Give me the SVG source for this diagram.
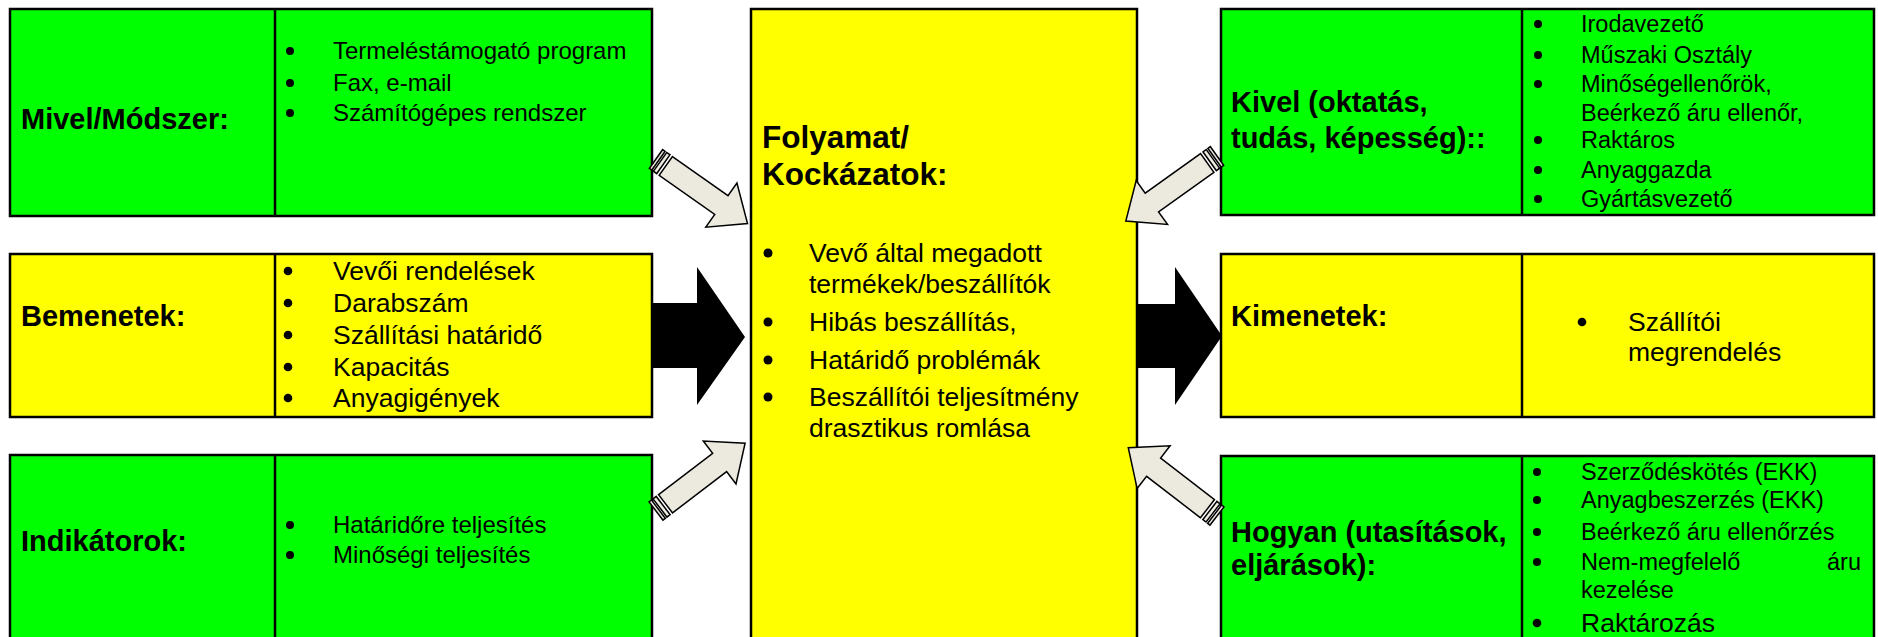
<svg xmlns="http://www.w3.org/2000/svg" width="1878" height="637" viewBox="0 0 1878 637">
<style>
  .box{stroke:#000;stroke-width:2.5}
  .g{fill:#00ff00}
  .y{fill:#ffff00}
  .div{stroke:#000;stroke-width:2.5}
  .lbl{font-family:"Liberation Sans",Arial,sans-serif;font-weight:bold;font-size:29px;fill:#000}
  .ttl{font-family:"Liberation Sans",Arial,sans-serif;font-weight:bold;font-size:31.5px;fill:#000}
  .b24{font-family:"Liberation Sans",Arial,sans-serif;font-size:24px;fill:#000}
  .b26{font-family:"Liberation Sans",Arial,sans-serif;font-size:26.5px;fill:#000}
  .b23{font-family:"Liberation Sans",Arial,sans-serif;font-size:23.5px;fill:#000}
  .dot{fill:#000}
  .garr{fill:#ece9df;stroke:#000;stroke-width:1.5;stroke-linejoin:miter}
  .barr{fill:#000}
</style>
<defs>
  <g id="garrow">
    <rect class="garr" x="0" y="-11.5" width="3" height="23"/>
    <rect class="garr" x="5" y="-11.5" width="4" height="23"/>
    <polygon class="garr" points="12,-11.5 80,-11.5 80,-27 112,0 80,27 80,11.5 12,11.5"/>
  </g>
</defs>

<g id="mivel">
  <rect class="box g" x="10" y="9" width="642" height="207"/>
  <line class="div" x1="275" y1="9" x2="275" y2="216"/>
  <text class="lbl" x="21" y="129">Mivel/Módszer:</text>
  <circle class="dot" cx="290" cy="51" r="4"/><text class="b24" x="333" y="59">Termeléstámogató program</text>
  <circle class="dot" cx="290" cy="83" r="4"/><text class="b24" x="333" y="91">Fax, e-mail</text>
  <circle class="dot" cx="290" cy="113" r="4"/><text class="b24" x="333" y="121">Számítógépes rendszer</text>
</g>

<g id="bemenetek">
  <rect class="box y" x="10" y="254" width="642" height="163"/>
  <line class="div" x1="275" y1="254" x2="275" y2="417"/>
  <text class="lbl" x="21" y="326">Bemenetek:</text>
  <circle class="dot" cx="288" cy="271" r="4.3"/><text class="b26" x="333" y="280">Vevői rendelések</text>
  <circle class="dot" cx="288" cy="303" r="4.3"/><text class="b26" x="333" y="312">Darabszám</text>
  <circle class="dot" cx="288" cy="335" r="4.3"/><text class="b26" x="333" y="344">Szállítási határidő</text>
  <circle class="dot" cx="288" cy="367" r="4.3"/><text class="b26" x="333" y="376">Kapacitás</text>
  <circle class="dot" cx="288" cy="398" r="4.3"/><text class="b26" x="333" y="407">Anyagigények</text>
</g>

<g id="indikatorok">
  <rect class="box g" x="10" y="455" width="642" height="190"/>
  <line class="div" x1="275" y1="455" x2="275" y2="645"/>
  <text class="lbl" x="21" y="551">Indikátorok:</text>
  <circle class="dot" cx="290" cy="525" r="4"/><text class="b24" x="333" y="533">Határidőre teljesítés</text>
  <circle class="dot" cx="290" cy="555" r="4"/><text class="b24" x="333" y="563">Minőségi teljesítés</text>
</g>

<g id="folyamat">
  <rect class="box y" x="751" y="9" width="386" height="640"/>
  <text class="ttl" x="762" y="148">Folyamat/</text>
  <text class="ttl" x="762" y="185">Kockázatok:</text>
  <circle class="dot" cx="768" cy="253" r="4.5"/><text class="b26" x="809" y="262">Vevő által megadott</text>
  <text class="b26" x="809" y="293">termékek/beszállítók</text>
  <circle class="dot" cx="768" cy="322" r="4.5"/><text class="b26" x="809" y="331">Hibás beszállítás,</text>
  <circle class="dot" cx="768" cy="360" r="4.5"/><text class="b26" x="809" y="369">Határidő problémák</text>
  <circle class="dot" cx="768" cy="397" r="4.5"/><text class="b26" x="809" y="406">Beszállítói teljesítmény</text>
  <text class="b26" x="809" y="437">drasztikus romlása</text>
</g>

<g id="kivel">
  <rect class="box g" x="1221" y="9" width="653" height="206"/>
  <line class="div" x1="1522" y1="9" x2="1522" y2="215"/>
  <text class="lbl" x="1231" y="112">Kivel (oktatás,</text>
  <text class="lbl" x="1231" y="148">tudás, képesség)::</text>
  <circle class="dot" cx="1538" cy="24" r="4"/><text class="b23" x="1581" y="32">Irodavezető</text>
  <circle class="dot" cx="1538" cy="55" r="4"/><text class="b23" x="1581" y="63">Műszaki Osztály</text>
  <circle class="dot" cx="1538" cy="84" r="4"/><text class="b23" x="1581" y="92">Minőségellenőrök,</text>
  <text class="b23" x="1581" y="121">Beérkező áru ellenőr,</text>
  <circle class="dot" cx="1538" cy="140" r="4"/><text class="b23" x="1581" y="148">Raktáros</text>
  <circle class="dot" cx="1538" cy="170" r="4"/><text class="b23" x="1581" y="178">Anyaggazda</text>
  <circle class="dot" cx="1538" cy="199" r="4"/><text class="b23" x="1581" y="207">Gyártásvezető</text>
</g>

<g id="kimenetek">
  <rect class="box y" x="1221" y="254" width="653" height="163"/>
  <line class="div" x1="1522" y1="254" x2="1522" y2="417"/>
  <text class="lbl" x="1231" y="326">Kimenetek:</text>
  <circle class="dot" cx="1582" cy="322" r="4.3"/><text class="b26" x="1628" y="331">Szállítói</text>
  <text class="b26" x="1628" y="361">megrendelés</text>
</g>

<g id="hogyan">
  <rect class="box g" x="1221" y="456" width="653" height="190"/>
  <line class="div" x1="1522" y1="456" x2="1522" y2="646"/>
  <text class="lbl" x="1231" y="542">Hogyan (utasítások,</text>
  <text class="lbl" x="1231" y="575">eljárások):</text>
  <circle class="dot" cx="1537" cy="472" r="4"/><text class="b23" x="1581" y="480">Szerződéskötés (EKK)</text>
  <circle class="dot" cx="1537" cy="500" r="4"/><text class="b23" x="1581" y="508">Anyagbeszerzés (EKK)</text>
  <circle class="dot" cx="1537" cy="532" r="4"/><text class="b23" x="1581" y="540">Beérkező áru ellenőrzés</text>
  <circle class="dot" cx="1537" cy="562" r="4"/><text class="b23" x="1581" y="570">Nem-megfelelő</text><text class="b23" x="1861" y="570" text-anchor="end">áru</text>
  <text class="b23" x="1581" y="598">kezelése</text>
  <circle class="dot" cx="1537" cy="623" r="4.3"/><text class="b26" x="1581" y="632">Raktározás</text>
</g>

<g id="connectors">
  <polygon class="barr" points="652,303 697,303 697,267 745,337 697,405 697,368 652,368"/>
  <polygon class="barr" points="1138,304 1175,304 1175,267 1222,336 1175,405 1175,368 1138,368"/>
  <use href="#garrow" transform="translate(656,159) rotate(35.2)"/>
  <use href="#garrow" transform="translate(656,511) rotate(-37.3)"/>
  <use href="#garrow" transform="translate(1217,156) rotate(144.5)"/>
  <use href="#garrow" transform="translate(1217,516) rotate(-142.4)"/>
</g>
</svg>
